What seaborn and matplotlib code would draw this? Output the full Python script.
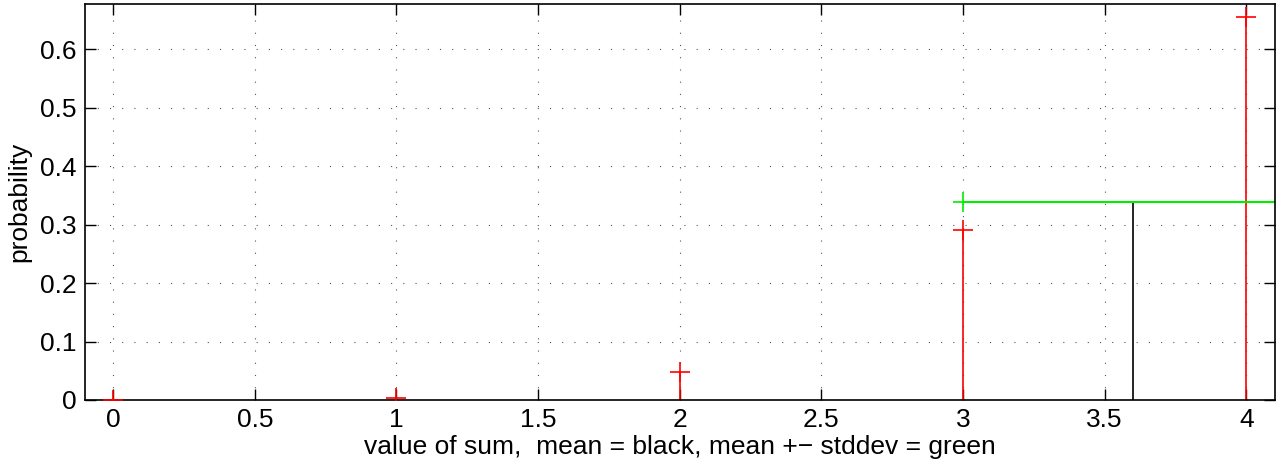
import numpy as np
import seaborn as sns
import matplotlib
matplotlib.use("Agg")
import matplotlib.pyplot as plt

# probabilities of the sum
values = [0, 1, 2, 3, 4]
probs = [0.0001, 0.0036, 0.0486, 0.2916, 0.6561]
mean_val = 3.6
std_val = 0.6
band_height = 0.338

sns.set_style("ticks", {"axes.edgecolor": "black", "text.color": "black",
                        "xtick.color": "black", "ytick.color": "black",
                        "axes.labelcolor": "black"})
plt.rcParams['font.family'] = ['Liberation Sans', 'DejaVu Sans']
plt.rcParams['font.size'] = 19

fig = plt.figure(figsize=(12.85, 4.75), dpi=100)
ax = fig.add_axes([0.066, 0.158, 0.926, 0.834])

# red stems with + markers
ax.vlines(values, 0, probs, color="red", lw=1.2)
sns.scatterplot(x=values, y=probs, marker="+", color="red", s=200, linewidth=1.2, ax=ax, zorder=3)

# mean (black) and mean +- stddev (green)
ax.vlines([mean_val], 0, band_height, color="black", lw=1.2)
ends = [mean_val - std_val, mean_val + std_val]
sns.lineplot(x=ends, y=[band_height, band_height], color="#00ee00", lw=1.5, ax=ax)
sns.scatterplot(x=ends, y=[band_height, band_height], marker="+", color="#00ee00",
                s=200, linewidth=1.2, ax=ax, zorder=3)

ax.set_xlim(-0.1, 4.1)
ax.set_ylim(0, 0.678)
ax.set_xticks(np.arange(0, 4.01, 0.5))
ax.set_xticklabels(["0", "0.5", "1", "1.5", "2", "2.5", "3", "3.5", "4"])
ax.set_yticks(np.arange(0, 0.61, 0.1))
ax.set_yticklabels(["0", "0.1", "0.2", "0.3", "0.4", "0.5", "0.6"])
ax.grid(True, linestyle=(0, (1, 10)), color="#555555", lw=0.8)
ax.tick_params(direction="in", length=8, width=1, top=True, right=True, labelsize=19, pad=6)
for sp in ax.spines.values():
    sp.set_linewidth(1.2)
ax.set_xlabel("value of sum,  mean = black, mean +\u2212 stddev = green", fontsize=19, labelpad=2)
ax.set_ylabel("probability", fontsize=19, labelpad=6)

fig.savefig("out.png", dpi=100)
